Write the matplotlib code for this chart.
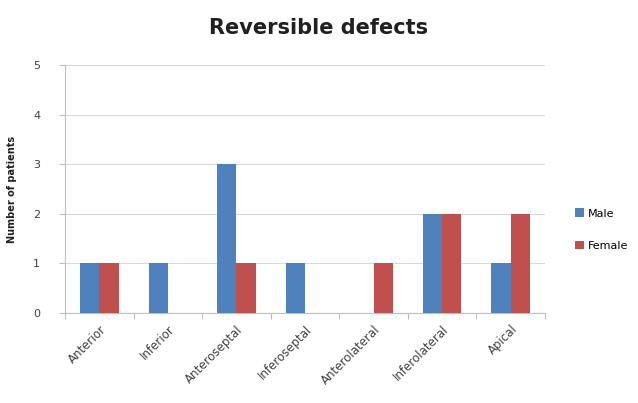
import numpy as np
import matplotlib.pyplot as plt

categorias = ["Anterior", "Inferior", "Anteroseptal", "Inferoseptal",
              "Anterolateral", "Inferolateral", "Apical"]
male = [1, 1, 3, 1, 0, 2, 1]
female = [1, 0, 1, 0, 1, 2, 2]

azul = "#4f81bd"
rojo = "#c0504d"

fig = plt.figure(figsize=(6.38, 4.03), dpi=100)
ax = fig.add_axes([0.102, 0.223, 0.752, 0.616])

x = np.arange(len(categorias))
ancho = 0.28
ax.bar(x - ancho / 2, male, ancho, color=azul, label="Male", zorder=3)
ax.bar(x + ancho / 2, female, ancho, color=rojo, label="Female", zorder=3)

ax.set_xlim(-0.5, len(categorias) - 0.5)
ax.set_ylim(0, 5)
ax.set_yticks(range(6))
ax.yaxis.grid(True, color="#d9d9d9", linewidth=0.8, zorder=0)
ax.set_xticks(np.arange(len(categorias) + 1) - 0.5, minor=False)
ax.set_xticklabels([])
ax.set_xticks(x, minor=True)
ax.set_xticklabels(categorias, minor=True, rotation=45, ha="right",
                   rotation_mode="anchor", fontsize=8.5, color="#404040")
ax.tick_params(axis="x", which="minor", length=0, pad=7)
ax.tick_params(axis="x", which="major", length=4, color="#bfbfbf")
ax.tick_params(axis="y", labelsize=8, labelcolor="#404040", length=4,
               color="#bfbfbf", pad=14)

for lado in ["top", "right"]:
    ax.spines[lado].set_visible(False)
ax.spines["left"].set_color("#bfbfbf")
ax.spines["bottom"].set_color("#bfbfbf")

ax.set_ylabel("Number of patients", fontsize=7, fontweight="bold",
              color="#202020")
ax.yaxis.set_label_coords(-0.1, 0.5)
fig.text(0.5, 0.915, "Reversible defects", fontsize=15, fontweight="bold",
         ha="center", color="#202020")

fig.legend(loc="center left", bbox_to_anchor=(0.885, 0.43), frameon=False,
           fontsize=8, handlelength=0.8, handleheight=0.8, labelspacing=2.0,
           handletextpad=0.4)

fig.savefig("out.png", dpi=100)
